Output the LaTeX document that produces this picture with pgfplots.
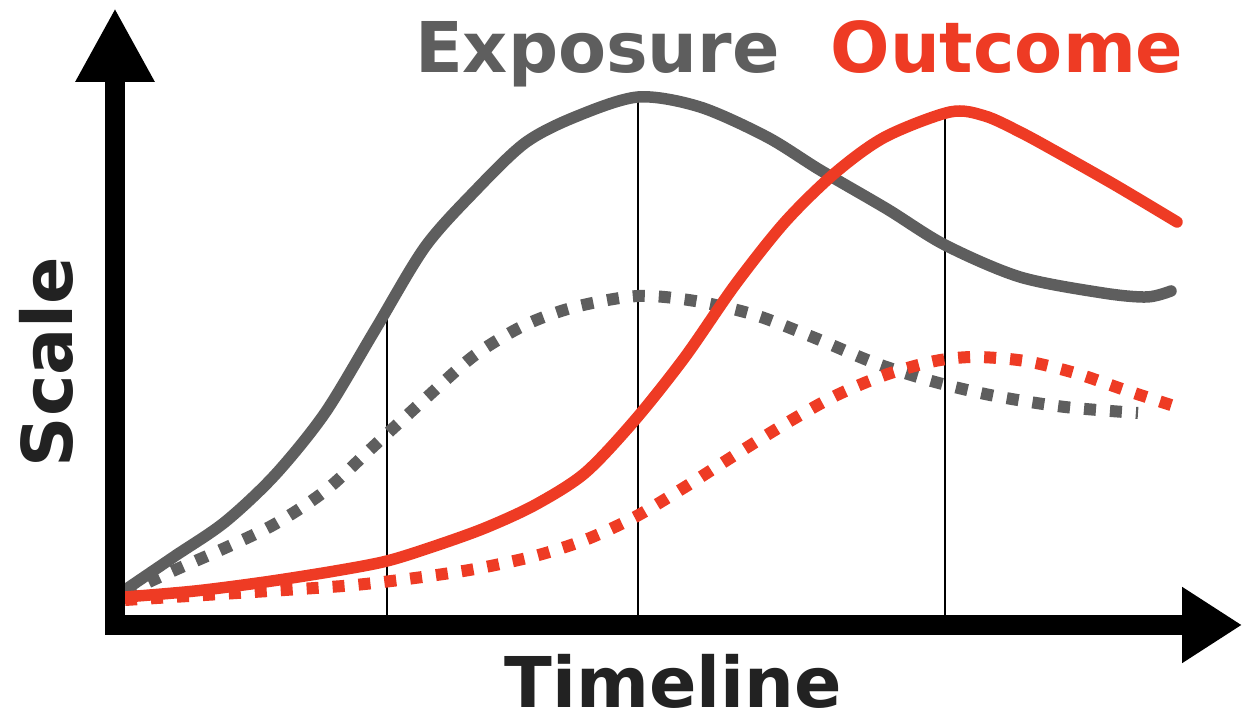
\documentclass[border=0pt]{standalone}
\usepackage{pgfplots}
\pgfplotsset{compat=1.18}
\usepackage{fontspec}
\setmainfont{DejaVu Sans}
\usetikzlibrary{arrows.meta}

\definecolor{expgray}{HTML}{5E5E5E}
\definecolor{outred}{HTML}{EE3B24}
\definecolor{labelink}{HTML}{222222}

\tikzset{ttl/.style={anchor=base, font=\bfseries\fontsize{35}{35}\selectfont, inner sep=0pt, text depth=0pt}}

\begin{document}
\begin{tikzpicture}
\begin{axis}[
  scale only axis,
  width=621pt, height=358pt,
  xmin=-115, xmax=1127, ymin=-91, ymax=625,
  hide axis, clip=false,
  solidline/.style={line width=5.75pt, line cap=round, line join=round, smooth, tension=0.5, no marks},
  dotline/.style={line width=6pt, line cap=butt, smooth, tension=0.5, no marks, dash pattern=on 6pt off 7pt},
]
% frame of the picture
\path (axis cs:-115,-91) rectangle (axis cs:1127,625);

% reference lines at three time points
\addplot[black, line width=1pt, no marks] coordinates {(272,0) (272,315)};
\addplot[black, line width=1pt, no marks] coordinates {(523,0) (523,533)};
\addplot[black, line width=1pt, no marks] coordinates {(830,0) (830,510)};

% exposure, dotted
\addplot[expgray, dotline] coordinates {
(10,32) (60,55) (110,77) (160,101) (210,134) (260,180) (310,226) (360,270)
(410,300) (460,318) (523,329) (580,324) (640,310) (700,287) (760,262)
(820,243) (880,229) (950,218) (1023,212)};

% outcome, dotted
\addplot[outred, dotline] coordinates {
(10,25) (90,30) (170,35) (240,40) (300,47) (360,56) (420,69) (470,85)
(520,108) (570,138) (620,170) (670,201) (720,229) (770,250) (820,264)
(860,268) (910,264) (960,252) (1010,235) (1062,218)};

% exposure, solid
\addplot[expgray, solidline] coordinates {
(10,35) (60,69) (110,103) (160,150) (210,212) (260,295) (310,378) (360,434)
(410,482) (460,508) (523,528) (585,518) (652,488) (705,455) (772,416)
(830,380) (905,348) (988,332) (1032,328) (1056,334)};

% outcome, solid
\addplot[outred, solidline] coordinates {
(10,28) (80,34) (150,43) (220,54) (272,64) (320,79) (370,97) (420,120)
(470,152) (520,205) (570,268) (620,340) (670,403) (720,452) (770,488)
(835,513) (870,509) (905,493) (940,474) (1000,440) (1062,403)};

% axes with arrow heads
\draw[overlay, black, line width=10pt, -{Triangle[width=37pt, length=37pt]}]
  (axis cs:0,-10) -- (axis cs:0,617);
\draw[overlay, black, line width=10pt, -{Triangle[width=36pt, length=30pt]}]
  (axis cs:-10,0) -- (axis cs:1127,0);

% titles
\node[ttl, text=expgray] at (axis cs:482.5,552) {Exposure};
\node[ttl, text=outred] at (axis cs:892,552) {Outcome};
\node[ttl, text=labelink] at (axis cs:558.5,-83) {Timeline};
\node[ttl, rotate=90, text=labelink] at (axis cs:-43,263) {Scale};
\end{axis}
\end{tikzpicture}
\end{document}
